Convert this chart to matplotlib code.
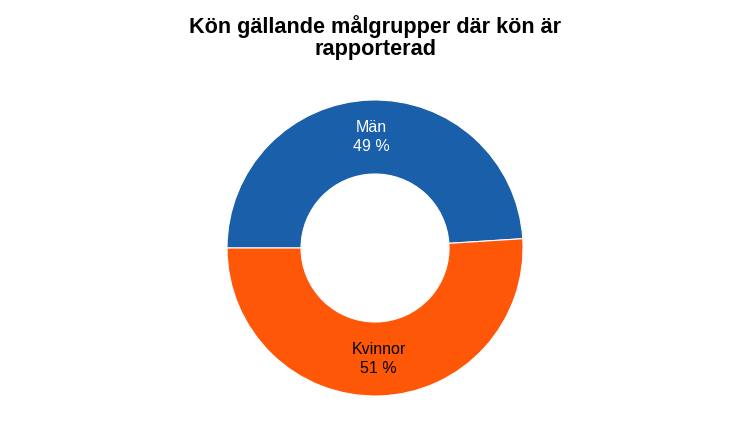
import numpy as np
import matplotlib.pyplot as plt

plt.rcParams['font.family'] = ['Liberation Sans', 'DejaVu Sans']

labels = ['Män', 'Kvinnor']
shares = [49, 51]
colors = ['#1a5faa', '#ff5708']
text_colors = ['white', 'black']


def main():
    fig = plt.figure(figsize=(7.5, 4.36), dpi=100)
    ax = fig.add_axes([0.3027, 0.0917, 0.3947, 0.679])
    wedges, _ = ax.pie(shares, colors=colors, startangle=180, counterclock=False,
                       radius=1.0, wedgeprops=dict(width=0.5, edgecolor='white', linewidth=0.8))
    for w, label, share, tc in zip(wedges, labels, shares, text_colors):
        ang = np.deg2rad((w.theta1 + w.theta2) / 2)
        r = 0.75
        ax.text(r * np.cos(ang), r * np.sin(ang), f"{label}\n{share} %",
                ha='center', va='center', color=tc, fontsize=11.5, linespacing=1.3)
    ax.set_xlim(-1, 1)
    ax.set_ylim(-1, 1)
    ax.set_aspect('equal')
    ax.axis('off')

    fig.text(0.5, 0.965, "Kön gällande målgrupper där kön är\nrapporterad", ha='center', va='top',
             fontsize=15.6, fontweight='bold', linespacing=1.07)
    fig.savefig('out.png', dpi=100)


if __name__ == "__main__":
    main()
